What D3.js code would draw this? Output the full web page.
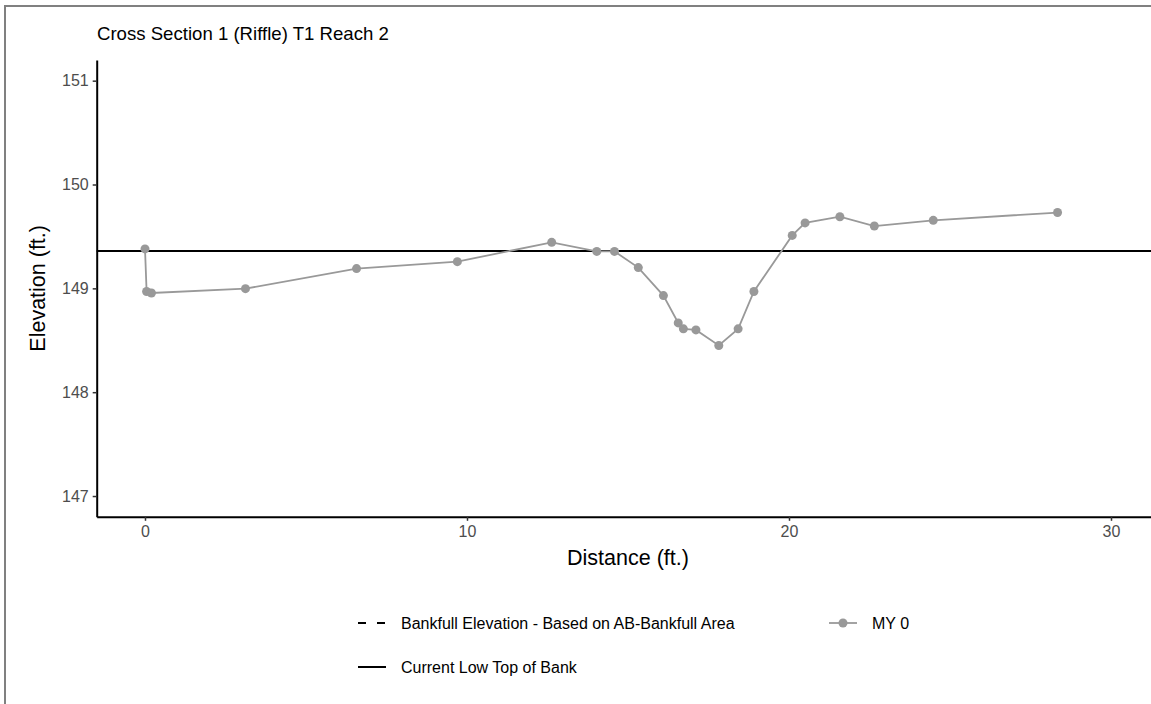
<!DOCTYPE html>
<html>
<head>
<meta charset="utf-8">
<script src="https://cdn.jsdelivr.net/npm/d3@7"></script>
<style>
  body { margin: 0; background: #fff; }
  svg { display: block; font-family: "Liberation Sans", Arial, Helvetica, sans-serif; }
</style>
</head>
<body>
<script>
// survey data
var distance  = [0, 0.05, 0.2, 3.12, 6.57, 9.70, 12.63, 14.03, 14.58, 15.32, 16.10, 16.56, 16.72, 17.11, 17.82, 18.42, 18.91, 20.10, 20.50, 21.58, 22.65, 24.48, 28.34];
var elevation = [149.38, 148.97, 148.955, 148.997, 149.19, 149.257, 149.443, 149.356, 149.356, 149.20, 148.93, 148.667, 148.61, 148.60, 148.45, 148.61, 148.97, 149.51, 149.63, 149.69, 149.60, 149.655, 149.73];
var lowTopBank = 149.36;
var xTicks = [0, 10, 20, 30];
var yTicks = [147, 148, 149, 150, 151];
var legendLabels = ["Bankfull Elevation - Based on AB-Bankfull Area", "MY 0", "Current Low Top of Bank"];

var w = 1151;
var h = 704;
// panel edges (right edge runs past the window)
var pLeft = 96.7, pRight = 1159.3, pTop = 59.9, pBottom = 516.8;
var grey = "#999999";

var svg = d3.select("body")
            .append("svg")
            .attr("width", w)
            .attr("height", h);

// outer frame (runs off the right and bottom edge)
svg.append("rect")
   .attr("x", 5).attr("y", 6)
   .attr("width", 1200).attr("height", 800)
   .attr("fill", "none")
   .attr("stroke", "#808080")
   .attr("stroke-width", 2);

var x_scale = d3.scaleLinear().domain([-1.5, 31.5]).range([pLeft, pRight]);
var y_scale = d3.scaleLinear().domain([146.8, 151.2]).range([pBottom, pTop]);

// low top of bank line
svg.append("line")
   .attr("x1", pLeft).attr("x2", pRight)
   .attr("y1", y_scale(lowTopBank)).attr("y2", y_scale(lowTopBank))
   .attr("stroke", "#000").attr("stroke-width", 2);

var pts = distance.map(function(d, i){ return [d, elevation[i]]; });

svg.append("path")
   .datum(pts)
   .attr("fill", "none")
   .attr("stroke", grey)
   .attr("stroke-width", 1.8)
   .attr("d", d3.line()
              .x(function(d){ return x_scale(d[0]); })
              .y(function(d){ return y_scale(d[1]); }));

svg.selectAll("circle.pt")
   .data(pts)
   .enter()
   .append("circle")
   .attr("class", "pt")
   .attr("cx", function(d){ return x_scale(d[0]); })
   .attr("cy", function(d){ return y_scale(d[1]); })
   .attr("r", 4.5)
   .attr("fill", grey);

// axes
var x_axis = d3.axisBottom(x_scale).tickValues(xTicks).tickFormat(d3.format("d"))
               .tickSize(4).tickPadding(5).tickSizeOuter(0);
var y_axis = d3.axisLeft(y_scale).tickValues(yTicks).tickFormat(d3.format("d"))
               .tickSize(4).tickPadding(4).tickSizeOuter(0);

var gx = svg.append("g")
   .attr("transform", "translate(0," + pBottom + ")")
   .call(x_axis);
var gy = svg.append("g")
   .attr("transform", "translate(" + pLeft + ",0)")
   .call(y_axis);

[gx, gy].forEach(function(g){
  g.attr("font-family", null).attr("font-size", null);
  g.select(".domain").attr("stroke", "#000").attr("stroke-width", 2);
  g.selectAll(".tick line").attr("stroke", "#333").attr("stroke-width", 1.5);
  g.selectAll(".tick text").attr("fill", "#4d4d4d").style("font-size", "16px");
});

// titles
svg.append("text")
   .attr("x", 97).attr("y", 40)
   .style("font-size", "18.6px")
   .text("Cross Section 1 (Riffle) T1 Reach 2");

svg.append("text")
   .attr("x", (pLeft + pRight) / 2).attr("y", 565)
   .attr("text-anchor", "middle")
   .style("font-size", "21.5px")
   .text("Distance (ft.)");

svg.append("text")
   .attr("transform", "translate(45," + (pTop + pBottom) / 2 + ") rotate(-90)")
   .attr("text-anchor", "middle")
   .style("font-size", "21.5px")
   .text("Elevation (ft.)");

// legend
var leg = svg.append("g");
var row1 = 623, row2 = 667;

leg.append("line")
   .attr("x1", 358).attr("x2", 386).attr("y1", row1).attr("y2", row1)
   .attr("stroke", "#000").attr("stroke-width", 2)
   .attr("stroke-dasharray", "8,11");
leg.append("text")
   .attr("x", 401).attr("y", row1 + 5.5)
   .style("font-size", "16px")
   .text(legendLabels[0]);

leg.append("line")
   .attr("x1", 829).attr("x2", 857).attr("y1", row1).attr("y2", row1)
   .attr("stroke", grey).attr("stroke-width", 1.8);
leg.append("circle")
   .attr("cx", 843).attr("cy", row1).attr("r", 4.5)
   .attr("fill", grey);
leg.append("text")
   .attr("x", 872).attr("y", row1 + 5.5)
   .style("font-size", "16px")
   .text(legendLabels[1]);

leg.append("line")
   .attr("x1", 358).attr("x2", 386).attr("y1", row2).attr("y2", row2)
   .attr("stroke", "#000").attr("stroke-width", 2);
leg.append("text")
   .attr("x", 401).attr("y", row2 + 5.5)
   .style("font-size", "16px")
   .text(legendLabels[2]);
</script>
</body>
</html>
